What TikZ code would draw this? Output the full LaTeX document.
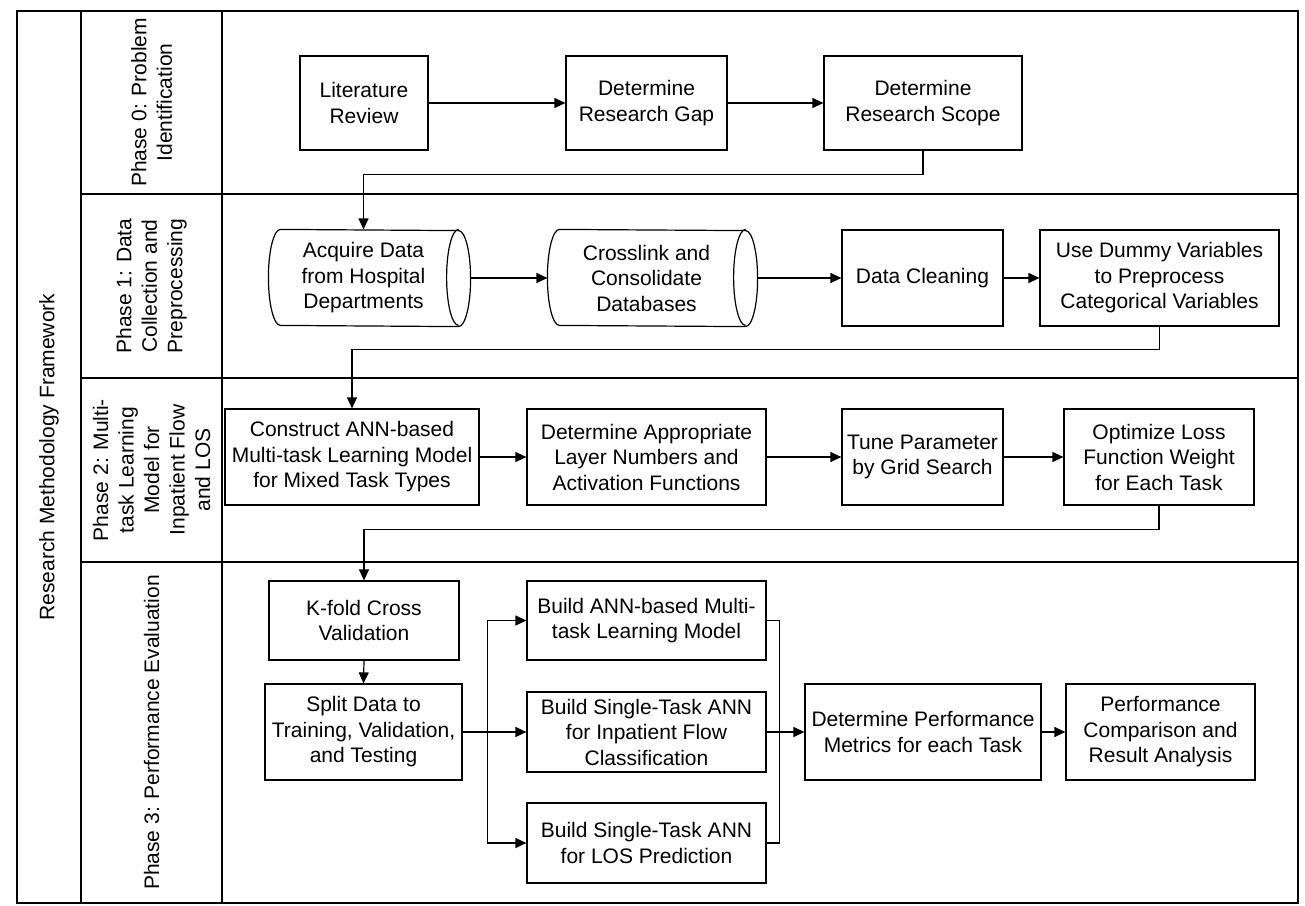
\documentclass[tikz,border=0pt]{standalone}
\usepackage{fontspec}
\setmainfont{Liberation Sans}
\usetikzlibrary{arrows.meta}
\usetikzlibrary{calc}

\begin{document}
\begin{tikzpicture}[x=0.5pt, y=0.5pt, line width=0.6pt,
	>={Triangle[length=5.5pt,width=5pt]},
	every node/.style={font=\fontsize{10.5pt}{12.75pt}\selectfont, align=center, inner sep=0pt},
	task/.style={draw, rectangle, minimum height=48pt},
	drum/.style={rectangle, minimum height=48pt}]
	 \useasboundingbox (0,0) rectangle (1305,-905);

	 % Swimlane frame
	 \draw (17,-11) rectangle (1298,-903);
	 \draw (81,-11) -- (81,-903);
	 \draw (222,-11) -- (222,-903);
	 \foreach \y in {194,378,562} {
	 	\draw (81,-\y) -- (1298,-\y);
	 }

	 \node[rotate=90] (frame) at (49,-457) {Research Methodology Framework};
	 \node[rotate=90] (p0) at (151.5,-102.5) {Phase 0: Problem\\Identification};
	 \node[rotate=90] (p1) at (151.5,-286) {Phase 1: Data\\Collection and\\Preprocessing};
	 \node[rotate=90] (p2) at (151.5,-470) {Phase 2: Multi-\\task Learning\\Model for\\Inpatient Flow\\and LOS};
	 \node[rotate=90] (p3) at (151.5,-732.5) {Phase 3: Performance Evaluation};

	 % Phase 0
	 \node[task, minimum width=64pt, minimum height=47pt] (lit) at (364,-103) {Literature\\Review};
	 \node[task, minimum width=80.5pt, minimum height=47pt] (gap) at (646.5,-103) {Determine\\Research Gap};
	 \node[task, minimum width=99pt, minimum height=47pt] (scope) at (923,-103) {Determine\\Research Scope};

	 % Phase 1
	 \node[drum, minimum width=94.5pt] (acq) at (363.5,-278) {Acquire Data\\from Hospital\\Departments};
	 \node[drum, minimum width=98.5pt] (cross) at (646.5,-278) {Crosslink and\\Consolidate\\Databases};
	 \foreach \c in {acq,cross} {
	 	\draw ([xshift=6pt]\c.north west) arc[start angle=90, end angle=270, x radius=6pt, y radius=24pt]
	 		-- (\c.south east) arc[start angle=-90, end angle=90, x radius=6pt, y radius=24pt] -- cycle;
	 	\draw (\c.north east) arc[start angle=90, end angle=270, x radius=6pt, y radius=24pt];
	 }
	 \node[task, minimum width=80.5pt] (clean) at (922.5,-278) {Data Cleaning};
	 \node[task, minimum width=119.5pt] (dummy) at (1159.5,-278) {Use Dummy Variables\\to Preprocess\\Categorical Variables};

	 % Phase 2
	 \node[task, minimum width=127pt] (construct) at (352,-457) {Construct ANN-based\\Multi-task Learning Model\\for Mixed Task Types};
	 \node[task, minimum width=119.5pt] (approp) at (646.5,-457) {Determine Appropriate\\Layer Numbers and\\Activation Functions};
	 \node[task, minimum width=80.5pt] (tune) at (922.5,-457) {Tune Parameter\\by Grid Search};
	 \node[task, minimum width=95pt] (optim) at (1159,-457) {Optimize Loss\\Function Weight\\for Each Task};

	 % Phase 3
	 \node[task, minimum width=95pt, minimum height=39.5pt] (kfold) at (364,-620.5) {K-fold Cross\\Validation};
	 \node[task, minimum width=98.5pt] (split) at (363.5,-732) {Split Data to\\Training, Validation,\\and Testing};
	 \node[task, minimum width=119.5pt, minimum height=39.5pt] (buildmtl) at (646.5,-620.5) {Build ANN-based Multi-\\task Learning Model};
	 \node[task, minimum width=119.5pt, minimum height=40pt] (buildflow) at (646.5,-732) {Build Single-Task ANN\\for Inpatient Flow\\Classification};
	 \node[task, minimum width=119.5pt, minimum height=40pt] (buildlos) at (646.5,-843) {Build Single-Task ANN\\for LOS Prediction};
	 \node[task, minimum width=118pt] (metrics) at (923,-732) {Determine Performance\\Metrics for each Task};
	 \node[task, minimum width=94.5pt] (compare) at (1160.5,-732) {Performance\\Comparison and\\Result Analysis};

	 % Connectors
	 \draw[->] (lit.east) -- (gap.west);
	 \draw[->] (gap.east) -- (scope.west);
	 \draw[->] (scope.south) -- ++(0,-24) -| (acq.north);
	 \draw[->] ([xshift=6pt]acq.east) -- (cross.west);
	 \draw[->] ([xshift=6pt]cross.east) -- (clean.west);
	 \draw[->] (clean.east) -- (dummy.west);
	 \draw[->] (dummy.south) -- ++(0,-23) -| (construct.north);
	 \draw[->] (construct.east) -- (approp.west);
	 \draw[->] (approp.east) -- (tune.west);
	 \draw[->] (tune.east) -- (optim.west);
	 \draw[->] (optim.south) -- ++(0,-24) -| (kfold.north);
	 \draw[->] (kfold.south) -- (split.north);
	 \draw[->] (split.east) -- ++(25,0) |- (buildmtl.west);
	 \draw[->] (split.east) -- (buildflow.west);
	 \draw[->] (split.east) -- ++(25,0) |- (buildlos.west);
	 \draw (buildmtl.east) -- ++(13,0) |- (buildlos.east);
	 \draw[->] (buildflow.east) -- (metrics.west);
	 \draw[->] (metrics.east) -- (compare.west);
\end{tikzpicture}
\end{document}
